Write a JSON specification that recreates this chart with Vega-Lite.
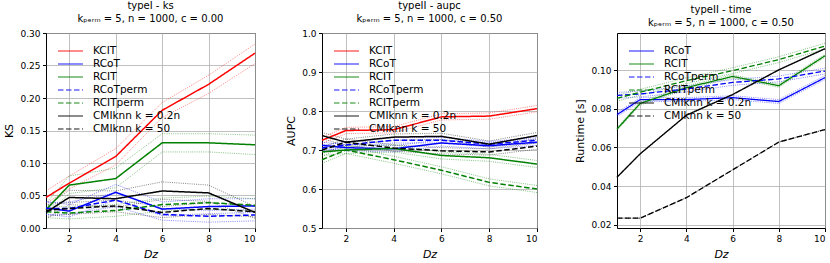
{
  "$schema": "https://vega.github.io/schema/vega-lite/v6.json",
  "padding": {"left": 2, "top": 0, "right": 0, "bottom": 0},
  "background": "white",
  "config": {
    "font": "DejaVu Sans",
    "view": {"stroke": "black", "strokeWidth": 1},
    "axis": {"domain": false, "grid": true, "gridColor": "#b0b0b0", "gridWidth": 0.8, "tickColor": "black", "tickSize": 3.5, "labelFontSize": 9, "labelColor": "black", "titleFontSize": 11, "titleFontWeight": "normal", "titleColor": "black", "labelPadding": 2.5, "titlePadding": 5.5, "labelOverlap": false},
    "title": {"fontSize": 10, "fontWeight": "normal", "lineHeight": 13, "offset": 5, "color": "black"},
    "legend": {"orient": "top-left", "offset": 12, "padding": 0, "symbolType": "M-1.2,0H3.8", "symbolSize": 100, "symbolStrokeWidth": 1.5, "labelFontSize": 10.5, "labelColor": "black", "rowPadding": 1, "labelOffset": 23, "title": null}
  },
  "datasets": {
    "ks": [
      {"method": "KCIT", "x": 1, "y": 0.047, "lo": 0.038, "hi": 0.057},
      {"method": "KCIT", "x": 2, "y": 0.069, "lo": 0.060, "hi": 0.080},
      {"method": "KCIT", "x": 4, "y": 0.110, "lo": 0.097, "hi": 0.122},
      {"method": "KCIT", "x": 6, "y": 0.181, "lo": 0.170, "hi": 0.193},
      {"method": "KCIT", "x": 8, "y": 0.221, "lo": 0.207, "hi": 0.235},
      {"method": "KCIT", "x": 10, "y": 0.269, "lo": 0.253, "hi": 0.283},
      {"method": "RCoT", "x": 1, "y": 0.031, "lo": 0.021, "hi": 0.041},
      {"method": "RCoT", "x": 2, "y": 0.026, "lo": 0.017, "hi": 0.036},
      {"method": "RCoT", "x": 4, "y": 0.055, "lo": 0.043, "hi": 0.067},
      {"method": "RCoT", "x": 6, "y": 0.029, "lo": 0.019, "hi": 0.040},
      {"method": "RCoT", "x": 8, "y": 0.033, "lo": 0.022, "hi": 0.045},
      {"method": "RCoT", "x": 10, "y": 0.034, "lo": 0.024, "hi": 0.045},
      {"method": "RCIT", "x": 1, "y": 0.028, "lo": 0.020, "hi": 0.038},
      {"method": "RCIT", "x": 2, "y": 0.066, "lo": 0.053, "hi": 0.080},
      {"method": "RCIT", "x": 4, "y": 0.076, "lo": 0.062, "hi": 0.092},
      {"method": "RCIT", "x": 6, "y": 0.131, "lo": 0.117, "hi": 0.145},
      {"method": "RCIT", "x": 8, "y": 0.131, "lo": 0.117, "hi": 0.145},
      {"method": "RCIT", "x": 10, "y": 0.128, "lo": 0.113, "hi": 0.143},
      {"method": "RCoTperm", "x": 1, "y": 0.030, "lo": 0.021, "hi": 0.039},
      {"method": "RCoTperm", "x": 2, "y": 0.030, "lo": 0.021, "hi": 0.040},
      {"method": "RCoTperm", "x": 4, "y": 0.043, "lo": 0.033, "hi": 0.054},
      {"method": "RCoTperm", "x": 6, "y": 0.021, "lo": 0.012, "hi": 0.030},
      {"method": "RCoTperm", "x": 8, "y": 0.018, "lo": 0.009, "hi": 0.027},
      {"method": "RCoTperm", "x": 10, "y": 0.020, "lo": 0.011, "hi": 0.029},
      {"method": "RCITperm", "x": 1, "y": 0.025, "lo": 0.016, "hi": 0.035},
      {"method": "RCITperm", "x": 2, "y": 0.023, "lo": 0.014, "hi": 0.032},
      {"method": "RCITperm", "x": 4, "y": 0.027, "lo": 0.018, "hi": 0.036},
      {"method": "RCITperm", "x": 6, "y": 0.036, "lo": 0.026, "hi": 0.046},
      {"method": "RCITperm", "x": 8, "y": 0.039, "lo": 0.029, "hi": 0.049},
      {"method": "RCITperm", "x": 10, "y": 0.035, "lo": 0.026, "hi": 0.045},
      {"method": "CMIknn k = 0.2n", "x": 1, "y": 0.024, "lo": 0.014, "hi": 0.033},
      {"method": "CMIknn k = 0.2n", "x": 2, "y": 0.047, "lo": 0.036, "hi": 0.058},
      {"method": "CMIknn k = 0.2n", "x": 4, "y": 0.045, "lo": 0.032, "hi": 0.057},
      {"method": "CMIknn k = 0.2n", "x": 6, "y": 0.057, "lo": 0.044, "hi": 0.071},
      {"method": "CMIknn k = 0.2n", "x": 8, "y": 0.054, "lo": 0.041, "hi": 0.066},
      {"method": "CMIknn k = 0.2n", "x": 10, "y": 0.024, "lo": 0.015, "hi": 0.033},
      {"method": "CMIknn k = 50", "x": 1, "y": 0.027, "lo": 0.018, "hi": 0.036},
      {"method": "CMIknn k = 50", "x": 2, "y": 0.030, "lo": 0.021, "hi": 0.039},
      {"method": "CMIknn k = 50", "x": 4, "y": 0.034, "lo": 0.025, "hi": 0.043},
      {"method": "CMIknn k = 50", "x": 6, "y": 0.024, "lo": 0.016, "hi": 0.033},
      {"method": "CMIknn k = 50", "x": 8, "y": 0.030, "lo": 0.021, "hi": 0.039},
      {"method": "CMIknn k = 50", "x": 10, "y": 0.025, "lo": 0.017, "hi": 0.034}
    ],
    "aupc": [
      {"method": "KCIT", "x": 1, "y": 0.725, "lo": 0.717, "hi": 0.733},
      {"method": "KCIT", "x": 2, "y": 0.750, "lo": 0.742, "hi": 0.758},
      {"method": "KCIT", "x": 4, "y": 0.752, "lo": 0.744, "hi": 0.760},
      {"method": "KCIT", "x": 6, "y": 0.785, "lo": 0.777, "hi": 0.793},
      {"method": "KCIT", "x": 8, "y": 0.787, "lo": 0.779, "hi": 0.795},
      {"method": "KCIT", "x": 10, "y": 0.806, "lo": 0.798, "hi": 0.814},
      {"method": "RCoT", "x": 1, "y": 0.712, "lo": 0.704, "hi": 0.720},
      {"method": "RCoT", "x": 2, "y": 0.706, "lo": 0.698, "hi": 0.714},
      {"method": "RCoT", "x": 4, "y": 0.703, "lo": 0.695, "hi": 0.711},
      {"method": "RCoT", "x": 6, "y": 0.718, "lo": 0.710, "hi": 0.726},
      {"method": "RCoT", "x": 8, "y": 0.711, "lo": 0.703, "hi": 0.719},
      {"method": "RCoT", "x": 10, "y": 0.720, "lo": 0.712, "hi": 0.728},
      {"method": "RCIT", "x": 1, "y": 0.695, "lo": 0.686, "hi": 0.704},
      {"method": "RCIT", "x": 2, "y": 0.700, "lo": 0.691, "hi": 0.709},
      {"method": "RCIT", "x": 4, "y": 0.704, "lo": 0.695, "hi": 0.713},
      {"method": "RCIT", "x": 6, "y": 0.686, "lo": 0.677, "hi": 0.695},
      {"method": "RCIT", "x": 8, "y": 0.680, "lo": 0.671, "hi": 0.689},
      {"method": "RCIT", "x": 10, "y": 0.664, "lo": 0.655, "hi": 0.673},
      {"method": "RCoTperm", "x": 1, "y": 0.705, "lo": 0.698, "hi": 0.712},
      {"method": "RCoTperm", "x": 2, "y": 0.713, "lo": 0.706, "hi": 0.720},
      {"method": "RCoTperm", "x": 4, "y": 0.725, "lo": 0.718, "hi": 0.732},
      {"method": "RCoTperm", "x": 6, "y": 0.725, "lo": 0.718, "hi": 0.732},
      {"method": "RCoTperm", "x": 8, "y": 0.715, "lo": 0.708, "hi": 0.722},
      {"method": "RCoTperm", "x": 10, "y": 0.725, "lo": 0.718, "hi": 0.732},
      {"method": "RCITperm", "x": 1, "y": 0.675, "lo": 0.666, "hi": 0.684},
      {"method": "RCITperm", "x": 2, "y": 0.700, "lo": 0.691, "hi": 0.709},
      {"method": "RCITperm", "x": 4, "y": 0.675, "lo": 0.666, "hi": 0.684},
      {"method": "RCITperm", "x": 6, "y": 0.648, "lo": 0.639, "hi": 0.657},
      {"method": "RCITperm", "x": 8, "y": 0.617, "lo": 0.608, "hi": 0.626},
      {"method": "RCITperm", "x": 10, "y": 0.600, "lo": 0.591, "hi": 0.609},
      {"method": "CMIknn k = 0.2n", "x": 1, "y": 0.737, "lo": 0.729, "hi": 0.745},
      {"method": "CMIknn k = 0.2n", "x": 2, "y": 0.720, "lo": 0.712, "hi": 0.728},
      {"method": "CMIknn k = 0.2n", "x": 4, "y": 0.733, "lo": 0.725, "hi": 0.741},
      {"method": "CMIknn k = 0.2n", "x": 6, "y": 0.735, "lo": 0.727, "hi": 0.743},
      {"method": "CMIknn k = 0.2n", "x": 8, "y": 0.715, "lo": 0.707, "hi": 0.723},
      {"method": "CMIknn k = 0.2n", "x": 10, "y": 0.737, "lo": 0.729, "hi": 0.745},
      {"method": "CMIknn k = 50", "x": 1, "y": 0.700, "lo": 0.692, "hi": 0.708},
      {"method": "CMIknn k = 50", "x": 2, "y": 0.720, "lo": 0.712, "hi": 0.728},
      {"method": "CMIknn k = 50", "x": 4, "y": 0.705, "lo": 0.697, "hi": 0.713},
      {"method": "CMIknn k = 50", "x": 6, "y": 0.698, "lo": 0.690, "hi": 0.706},
      {"method": "CMIknn k = 50", "x": 8, "y": 0.695, "lo": 0.687, "hi": 0.703},
      {"method": "CMIknn k = 50", "x": 10, "y": 0.710, "lo": 0.702, "hi": 0.718}
    ],
    "time": [
      {"method": "RCoT", "x": 1, "y": 0.0770, "lo": 0.0760, "hi": 0.0780},
      {"method": "RCoT", "x": 2, "y": 0.0848, "lo": 0.0838, "hi": 0.0858},
      {"method": "RCoT", "x": 4, "y": 0.0848, "lo": 0.0838, "hi": 0.0858},
      {"method": "RCoT", "x": 6, "y": 0.0858, "lo": 0.0848, "hi": 0.0868},
      {"method": "RCoT", "x": 8, "y": 0.0838, "lo": 0.0828, "hi": 0.0848},
      {"method": "RCoT", "x": 10, "y": 0.0962, "lo": 0.0952, "hi": 0.0972},
      {"method": "RCIT", "x": 1, "y": 0.0695, "lo": 0.0688, "hi": 0.0703},
      {"method": "RCIT", "x": 2, "y": 0.0828, "lo": 0.0820, "hi": 0.0836},
      {"method": "RCIT", "x": 4, "y": 0.0910, "lo": 0.0902, "hi": 0.0918},
      {"method": "RCIT", "x": 6, "y": 0.0968, "lo": 0.0960, "hi": 0.0976},
      {"method": "RCIT", "x": 8, "y": 0.0920, "lo": 0.0912, "hi": 0.0928},
      {"method": "RCIT", "x": 10, "y": 0.1075, "lo": 0.1067, "hi": 0.1083},
      {"method": "RCoTperm", "x": 1, "y": 0.0870, "lo": 0.0855, "hi": 0.0885},
      {"method": "RCoTperm", "x": 2, "y": 0.0877, "lo": 0.0862, "hi": 0.0892},
      {"method": "RCoTperm", "x": 4, "y": 0.0903, "lo": 0.0888, "hi": 0.0918},
      {"method": "RCoTperm", "x": 6, "y": 0.0937, "lo": 0.0922, "hi": 0.0952},
      {"method": "RCoTperm", "x": 8, "y": 0.0955, "lo": 0.0940, "hi": 0.0970},
      {"method": "RCoTperm", "x": 10, "y": 0.0996, "lo": 0.0981, "hi": 0.1011},
      {"method": "RCITperm", "x": 1, "y": 0.0855, "lo": 0.0840, "hi": 0.0870},
      {"method": "RCITperm", "x": 2, "y": 0.0886, "lo": 0.0871, "hi": 0.0901},
      {"method": "RCITperm", "x": 4, "y": 0.0946, "lo": 0.0931, "hi": 0.0961},
      {"method": "RCITperm", "x": 6, "y": 0.0998, "lo": 0.0983, "hi": 0.1013},
      {"method": "RCITperm", "x": 8, "y": 0.1055, "lo": 0.1040, "hi": 0.1070},
      {"method": "RCITperm", "x": 10, "y": 0.1125, "lo": 0.1110, "hi": 0.1140},
      {"method": "CMIknn k = 0.2n", "x": 1, "y": 0.0446, "lo": 0.0444, "hi": 0.0448},
      {"method": "CMIknn k = 0.2n", "x": 2, "y": 0.0567, "lo": 0.0565, "hi": 0.0569},
      {"method": "CMIknn k = 0.2n", "x": 4, "y": 0.0767, "lo": 0.0765, "hi": 0.0769},
      {"method": "CMIknn k = 0.2n", "x": 6, "y": 0.0874, "lo": 0.0872, "hi": 0.0876},
      {"method": "CMIknn k = 0.2n", "x": 8, "y": 0.1002, "lo": 0.1000, "hi": 0.1004},
      {"method": "CMIknn k = 0.2n", "x": 10, "y": 0.1112, "lo": 0.1110, "hi": 0.1114},
      {"method": "CMIknn k = 50", "x": 1, "y": 0.0234, "lo": 0.0233, "hi": 0.0235},
      {"method": "CMIknn k = 50", "x": 2, "y": 0.0234, "lo": 0.0233, "hi": 0.0235},
      {"method": "CMIknn k = 50", "x": 4, "y": 0.0340, "lo": 0.0339, "hi": 0.0341},
      {"method": "CMIknn k = 50", "x": 6, "y": 0.0484, "lo": 0.0483, "hi": 0.0485},
      {"method": "CMIknn k = 50", "x": 8, "y": 0.0628, "lo": 0.0627, "hi": 0.0629},
      {"method": "CMIknn k = 50", "x": 10, "y": 0.0693, "lo": 0.0692, "hi": 0.0694}
    ]
  },
  "spacing": 32,
  "resolve": {"scale": {"color": "independent", "strokeDash": "independent"}, "legend": {"color": "independent", "strokeDash": "independent"}},
  "hconcat": [
    {
      "spacing": 25,
      "resolve": {"scale": {"color": "independent", "strokeDash": "independent"}, "legend": {"color": "independent", "strokeDash": "independent"}},
      "hconcat": [
        {
          "width": 209, "height": 195,
          "title": {"text": ["typeI - ks", "kₚₑᵣₘ = 5, n = 1000, c = 0.00"]},
          "data": {"name": "ks"},
          "encoding": {
            "x": {"field": "x", "type": "quantitative", "title": "Dᴢ", "scale": {"domain": [1, 10], "nice": false}, "axis": {"values": [2, 4, 6, 8, 10], "titleFontStyle": "italic"}},
            "color": {"field": "method", "type": "nominal", "scale": {"domain": ["KCIT", "RCoT", "RCIT", "RCoTperm", "RCITperm", "CMIknn k = 0.2n", "CMIknn k = 50"], "range": ["#ff0000", "#0000ff", "#008000", "#0000ff", "#008000", "#000000", "#000000"]}}
          },
          "layer": [
            {"mark": {"type": "line", "strokeWidth": 0.8, "opacity": 0.6, "strokeDash": [1, 1.2]}, "encoding": {"y": {"field": "lo", "type": "quantitative", "title": "KS", "scale": {"domain": [0, 0.3], "nice": false, "zero": false}, "axis": {"values": [0, 0.05, 0.1, 0.15, 0.2, 0.25, 0.3], "format": ".2f"}}}},
            {"mark": {"type": "line", "strokeWidth": 0.8, "opacity": 0.6, "strokeDash": [1, 1.2]}, "encoding": {"y": {"field": "hi", "type": "quantitative", "title": "KS", "scale": {"domain": [0, 0.3], "nice": false, "zero": false}, "axis": {"values": [0, 0.05, 0.1, 0.15, 0.2, 0.25, 0.3], "format": ".2f"}}}},
            {"mark": {"type": "line", "strokeWidth": 1.5}, "encoding": {
              "y": {"field": "y", "type": "quantitative", "title": "KS", "scale": {"domain": [0, 0.3], "nice": false, "zero": false}, "axis": {"values": [0, 0.05, 0.1, 0.15, 0.2, 0.25, 0.3], "format": ".2f"}},
              "strokeDash": {"field": "method", "type": "nominal", "scale": {"domain": ["KCIT", "RCoT", "RCIT", "RCoTperm", "RCITperm", "CMIknn k = 0.2n", "CMIknn k = 50"], "range": [[1, 0], [1, 0], [1, 0], [5.5, 2.5], [5.5, 2.5], [1, 0], [5.5, 2.5]]}}
            }}
          ]
        },
        {
          "width": 215, "height": 195,
          "title": {"text": ["typeII - aupc", "kₚₑᵣₘ = 5, n = 1000, c = 0.50"]},
          "data": {"name": "aupc"},
          "encoding": {
            "x": {"field": "x", "type": "quantitative", "title": "Dᴢ", "scale": {"domain": [1, 10], "nice": false}, "axis": {"values": [2, 4, 6, 8, 10], "titleFontStyle": "italic"}},
            "color": {"field": "method", "type": "nominal", "scale": {"domain": ["KCIT", "RCoT", "RCIT", "RCoTperm", "RCITperm", "CMIknn k = 0.2n", "CMIknn k = 50"], "range": ["#ff0000", "#0000ff", "#008000", "#0000ff", "#008000", "#000000", "#000000"]}}
          },
          "layer": [
            {"mark": {"type": "line", "strokeWidth": 0.8, "opacity": 0.6, "strokeDash": [1, 1.2]}, "encoding": {"y": {"field": "lo", "type": "quantitative", "title": "AUPC", "scale": {"domain": [0.5, 1.0], "nice": false, "zero": false}, "axis": {"values": [0.5, 0.6, 0.7, 0.8, 0.9, 1.0], "format": ".1f"}}}},
            {"mark": {"type": "line", "strokeWidth": 0.8, "opacity": 0.6, "strokeDash": [1, 1.2]}, "encoding": {"y": {"field": "hi", "type": "quantitative", "title": "AUPC", "scale": {"domain": [0.5, 1.0], "nice": false, "zero": false}, "axis": {"values": [0.5, 0.6, 0.7, 0.8, 0.9, 1.0], "format": ".1f"}}}},
            {"mark": {"type": "line", "strokeWidth": 1.5}, "encoding": {
              "y": {"field": "y", "type": "quantitative", "title": "AUPC", "scale": {"domain": [0.5, 1.0], "nice": false, "zero": false}, "axis": {"values": [0.5, 0.6, 0.7, 0.8, 0.9, 1.0], "format": ".1f"}},
              "strokeDash": {"field": "method", "type": "nominal", "scale": {"domain": ["KCIT", "RCoT", "RCIT", "RCoTperm", "RCITperm", "CMIknn k = 0.2n", "CMIknn k = 50"], "range": [[1, 0], [1, 0], [1, 0], [5.5, 2.5], [5.5, 2.5], [1, 0], [5.5, 2.5]]}}
            }}
          ]
        }
      ]
    },
    {
      "width": 208, "height": 195,
      "title": {"text": ["typeII - time", "kₚₑᵣₘ = 5, n = 1000, c = 0.50"]},
      "data": {"name": "time"},
      "encoding": {
        "x": {"field": "x", "type": "quantitative", "title": "Dᴢ", "scale": {"domain": [1, 10], "nice": false}, "axis": {"values": [2, 4, 6, 8, 10], "titleFontStyle": "italic"}},
        "color": {"field": "method", "type": "nominal", "scale": {"domain": ["RCoT", "RCIT", "RCoTperm", "RCITperm", "CMIknn k = 0.2n", "CMIknn k = 50"], "range": ["#0000ff", "#008000", "#0000ff", "#008000", "#000000", "#000000"]}}
      },
      "layer": [
        {"mark": {"type": "line", "strokeWidth": 0.8, "opacity": 0.6, "strokeDash": [1, 1.2]}, "encoding": {"y": {"field": "lo", "type": "quantitative", "title": "Runtime [s]", "scale": {"domain": [0.0183, 0.1193], "nice": false, "zero": false}, "axis": {"values": [0.02, 0.04, 0.06, 0.08, 0.1], "format": ".2f"}}}},
        {"mark": {"type": "line", "strokeWidth": 0.8, "opacity": 0.6, "strokeDash": [1, 1.2]}, "encoding": {"y": {"field": "hi", "type": "quantitative", "title": "Runtime [s]", "scale": {"domain": [0.0183, 0.1193], "nice": false, "zero": false}, "axis": {"values": [0.02, 0.04, 0.06, 0.08, 0.1], "format": ".2f"}}}},
        {"mark": {"type": "line", "strokeWidth": 1.3}, "encoding": {
          "y": {"field": "y", "type": "quantitative", "title": "Runtime [s]", "scale": {"domain": [0.0183, 0.1193], "nice": false, "zero": false}, "axis": {"values": [0.02, 0.04, 0.06, 0.08, 0.1], "format": ".2f"}},
          "strokeDash": {"field": "method", "type": "nominal", "scale": {"domain": ["RCoT", "RCIT", "RCoTperm", "RCITperm", "CMIknn k = 0.2n", "CMIknn k = 50"], "range": [[1, 0], [1, 0], [5.5, 2.5], [5.5, 2.5], [1, 0], [5.5, 2.5]]}}
        }}
      ]
    }
  ]
}
